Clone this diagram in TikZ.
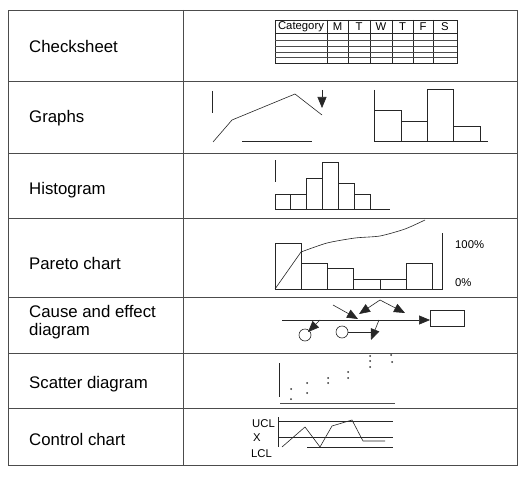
\documentclass[tikz,border=0pt]{standalone}
\usepackage{fontspec}
\setmainfont{Liberation Sans}
\usetikzlibrary{arrows.meta}
\begin{document}
\begin{tikzpicture}[x=1pt,y=-1pt,
  grid/.style={line width=0.8pt, black!70},
  chart/.style={line width=0.6pt, black!85},
  thin/.style={line width=0.4pt, black!70},
  lab/.style={font=\fontsize{16.8}{18.5}\selectfont, anchor=west, inner sep=0pt, align=left},
  small/.style={font=\fontsize{11.3}{13}\selectfont, inner sep=0pt},
  arr/.style={-{Triangle[length=11pt,width=9pt]}},
  sdot/.style={circle, fill=black!80, inner sep=0pt, minimum size=2pt}]
\useasboundingbox (0,0) rectangle (529,476);
\fill[white] (0,0) rectangle (529,476);
% table frame
\draw[grid] (8,10) rectangle (517,465);
\draw[grid] (183,10) -- (183,465);
\foreach \y in {81,153,218,297,353,408} \draw[grid] (8,\y) -- (517,\y);
% row labels
\node[lab] (l1) at (29,46) {Checksheet};
\node[lab] (l2) at (29,118) {Graphs};
\node[lab] (l3) at (29,190) {Histogram};
\node[lab] (l4) at (29,263) {Pareto chart};
\node[lab] (l5) at (29,322) {Cause and effect\\diagram};
\node[lab] (l6) at (29,384) {Scatter diagram};
\node[lab] (l7) at (29,439) {Control chart};
% checksheet
\draw[chart] (275,20) rectangle (457,63);
\draw[chart] (275,33) -- (457,33);
\foreach \x in {327,348,370,392,413,433} \draw[chart] (\x,20) -- (\x,63);
\foreach \y in {40,46,52,57} \draw[thin] (275,\y) -- (457,\y);
\node[small] (c0) at (301,27) {Category};
\node[small] (c1) at (337.5,27) {M};
\node[small] (c2) at (359,27) {T};
\node[small] (c3) at (381,27) {W};
\node[small] (c4) at (402.5,27) {T};
\node[small] (c5) at (423,27) {F};
\node[small] (c6) at (445,27) {S};
% graphs: line chart
\draw[chart] (212,91) -- (212,113);
\draw[chart] (213,142) -- (232,120) -- (295,94) -- (322,115);
\draw[chart] (242,141) -- (312,141);
\draw[chart, arr] (322,90) -- (322,108);
% graphs: bar chart
\draw[chart] (374,90) -- (374,141) -- (488,141);
\draw[chart] (374,141) rectangle (401,110);
\draw[chart] (401,141) rectangle (427,121);
\draw[chart] (427,141) rectangle (453,89);
\draw[chart] (453,141) rectangle (480,126);
% histogram
\draw[chart] (275,160) -- (275,182);
\draw[chart] (275,209) -- (390,209);
\draw[chart] (275,209) rectangle (290,194);
\draw[chart] (290,209) rectangle (306,194);
\draw[chart] (306,209) rectangle (322,178);
\draw[chart] (322,209) rectangle (338,162);
\draw[chart] (338,209) rectangle (354,183);
\draw[chart] (354,209) rectangle (370,194);
% pareto
\draw[chart] (275,289) -- (442,289) -- (442,233);
\draw[chart] (275,289) rectangle (301,243);
\draw[chart] (301,289) rectangle (327,263);
\draw[chart] (327,289) rectangle (353,268);
\draw[chart] (353,289) rectangle (380,279);
\draw[chart] (380,289) rectangle (406,279);
\draw[chart] (406,289) rectangle (432,263);
\draw[chart] (275,289) -- (301,252);
\draw[chart] plot[smooth, tension=0.4] coordinates {(301,252) (327,243) (355,238) (380,236) (405,229) (425,220)};
\node[small, anchor=west] (p1) at (455,245) {100\%};
\node[small, anchor=west] (p0) at (455,283) {0\%};
% cause and effect
\draw[chart, arr] (282,320) -- (430,320);
\draw[chart] (430,310) rectangle (464,326);
\draw[chart, arr] (333,305) -- (358,319);
\draw[chart, arr] (380,300) -- (359,314);
\draw[chart, arr] (380,300) -- (405,313);
\draw[chart] (305,335) circle (6);
\draw[chart, arr] (320,320) -- (308,332);
\draw[chart] (342,332) circle (6);
\draw[chart] (348,332) -- (372,332);
\draw[chart, arr] (379,320) -- (371,340);
% scatter
\draw[chart] (279,363) -- (279,397);
\draw[thin] (280,403) -- (395,403);
\foreach \p in {(291,389),(291,399),(307,383),(307,393),(328,378),(328,383),(348,372),(348,378),(370,356),(370,361),(370,367),(391,355),(392,362)}
  \node[sdot] at \p {};
% control chart
\node[small, anchor=west] (ucl) at (252,424) {UCL};
\node[small, anchor=west] (xcl) at (253,438) {X};
\node[small, anchor=west] (lcl) at (251,454) {LCL};
\draw[chart] (278,417) -- (278,447);
\draw[chart] (278,421) -- (393,421);
\draw[chart] (278,437) -- (393,437);
\draw[chart] (307,447) -- (393,447);
\draw[chart] (282,447) -- (305,427) -- (320,447) -- (332,426) -- (352,420) -- (363,441) -- (385,441);
\end{tikzpicture}
\end{document}
